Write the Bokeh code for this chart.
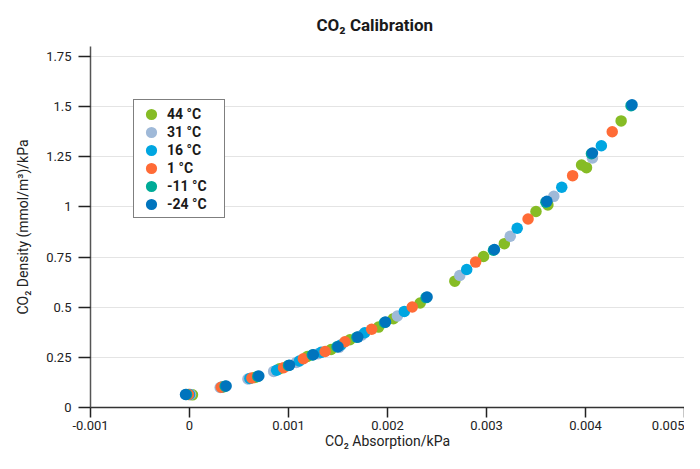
from bokeh.plotting import figure
from bokeh.models import FixedTicker, Legend, LegendItem, Range1d
from bokeh.embed import file_html
from bokeh.resources import INLINE

# ---------------- data ----------------
series_names = ["44 °C", "31 °C", "16 °C", "1 °C", "-11 °C", "-24 °C"]
series_colors = ["#86bc25", "#9fb9d8", "#00a6e1", "#ff6b36", "#00ab97", "#0074bd"]

x_44 = [0.00003, 0.00034, 0.00066, 0.00091, 0.00119, 0.00143, 0.00162, 0.00191, 0.00206,
        0.00233, 0.00268, 0.00297, 0.00318, 0.00350, 0.00362, 0.00396, 0.00401, 0.00436]
y_44 = [0.063, 0.102, 0.150, 0.193, 0.254, 0.289, 0.338, 0.401, 0.443,
        0.521, 0.630, 0.753, 0.817, 0.977, 1.010, 1.209, 1.196, 1.429]

x_31 = [0.00001, 0.00031, 0.00059, 0.00085, 0.00108, 0.00130, 0.00151, 0.00174, 0.00210,
        0.00273, 0.00324, 0.00368, 0.00407]
y_31 = [0.065, 0.100, 0.142, 0.180, 0.225, 0.268, 0.300, 0.360, 0.456,
        0.658, 0.854, 1.053, 1.244]

x_16 = [0.00000, 0.00033, 0.00061, 0.00088, 0.00111, 0.00133, 0.00153, 0.00177, 0.00217,
        0.00280, 0.00331, 0.00376, 0.00416]
y_16 = [0.065, 0.102, 0.145, 0.186, 0.232, 0.275, 0.312, 0.373, 0.479,
        0.688, 0.894, 1.098, 1.305]

x_1 = [-0.00001, 0.00032, 0.00063, 0.00095, 0.00115, 0.00137, 0.00157, 0.00184, 0.00225,
       0.00289, 0.00342, 0.00387, 0.00427]
y_1 = [0.065, 0.101, 0.147, 0.198, 0.243, 0.279, 0.328, 0.390, 0.501,
       0.725, 0.940, 1.156, 1.375]

x_m11 = [-0.00003, 0.00036, 0.00069, 0.00100, 0.00124, 0.00149, 0.00169, 0.00197, 0.00239,
         0.00307, 0.00360, 0.00406, 0.00446]
y_m11 = [0.065, 0.106, 0.155, 0.210, 0.262, 0.303, 0.350, 0.424, 0.548,
         0.784, 1.024, 1.265, 1.505]

x_m24 = [-0.00004, 0.00037, 0.00070, 0.00101, 0.00125, 0.00150, 0.00170, 0.00198, 0.00240,
         0.00308, 0.00361, 0.00407, 0.00447]
y_m24 = [0.065, 0.107, 0.157, 0.211, 0.263, 0.303, 0.351, 0.426, 0.551,
         0.788, 1.028, 1.269, 1.509]

x_ticks = [-0.001, 0, 0.001, 0.002, 0.003, 0.004, 0.005]
x_tick_labels = ["-0.001", "0", "0.001", "0.002", "0.003", "0.004", "0.005"]
y_ticks = [0, 0.25, 0.5, 0.75, 1, 1.25, 1.5, 1.75]
y_tick_labels = ["0", "0.25", "0.5", "0.75", "1", "1.25", "1.5", "1.75"]

xs = [x_44, x_31, x_16, x_1, x_m11, x_m24]
ys = [y_44, y_31, y_16, y_1, y_m11, y_m24]

FONT = "Roboto"

# ---------------- figure ----------------
p = figure(width=684, height=453,
           x_range=Range1d(-0.001, 0.005), y_range=Range1d(0, 1.8),
           output_backend="svg", toolbar_location=None,
           min_border_left=90, min_border_right=0,
           min_border_top=46, min_border_bottom=46,
           title="CO₂ Calibration")
p.outline_line_color = None
p.background_fill_color = "white"
p.border_fill_color = "white"

p.title.align = "left"
p.title.offset = 226
p.title.standoff = 23
p.title.text_font = FONT
p.title.text_font_size = "17px"
p.title.text_font_style = "bold"
p.title.text_color = "#1a1a1a"

p.xgrid.visible = False
p.ygrid.grid_line_color = "#e4e4e4"
p.ygrid.grid_line_width = 1

renderers = []
for xv, yv, c in zip(xs, ys, series_colors):
    r = p.ellipse(x=xv, y=yv, width=11.5, height=11.5,
                  width_units="screen", height_units="screen",
                  fill_color=c, line_color=None)
    renderers.append(r)

# y axis
ya = p.yaxis[0]
ya.ticker = FixedTicker(ticks=y_ticks)
ya.major_label_overrides = dict(zip(y_ticks, y_tick_labels))
ya.major_tick_out = 12
ya.major_tick_in = 0
ya.minor_tick_out = 0
ya.minor_tick_in = 0
ya.major_label_standoff = 7
ya.axis_label = "CO₂ Density (mmol/m³)/kPa"
ya.axis_label_standoff = 12
ya.axis_label_text_font = FONT
ya.axis_label_text_font_style = "normal"
ya.axis_label_text_font_size = "14px"
ya.axis_label_text_color = "#222222"
ya.major_label_text_font = FONT
ya.major_label_text_font_size = "13px"
ya.major_label_text_color = "#222222"
ya.axis_line_color = "#555555"
ya.axis_line_width = 1.5
ya.major_tick_line_color = "#222222"
ya.major_tick_line_width = 1.5

# x axis
xa = p.xaxis[0]
xa.ticker = FixedTicker(ticks=x_ticks)
xa.major_label_overrides = dict(zip(x_ticks, x_tick_labels))
xa.major_tick_out = 10
xa.major_tick_in = 0
xa.minor_tick_out = 0
xa.minor_tick_in = 0
xa.major_label_standoff = 3
xa.axis_label = "CO₂ Absorption/kPa"
xa.axis_label_standoff = 0
xa.axis_label_text_font = FONT
xa.axis_label_text_font_style = "normal"
xa.axis_label_text_font_size = "14px"
xa.axis_label_text_color = "#222222"
xa.major_label_text_font = FONT
xa.major_label_text_font_size = "13px"
xa.major_label_text_color = "#222222"
xa.axis_line_color = "#333333"
xa.axis_line_width = 1.5
xa.major_tick_line_color = "#222222"
xa.major_tick_line_width = 1.5

legend = Legend(items=[LegendItem(label=n, renderers=[r]) for n, r in zip(series_names, renderers)],
                location=(43, 189), margin=0, padding=5, spacing=1,
                glyph_width=24, glyph_height=14, label_height=17, label_width=52,
                label_standoff=4,
                label_text_font=FONT, label_text_font_style="bold", label_text_font_size="14px",
                label_text_color="#1a1a1a",
                border_line_color="black", border_line_width=1.2,
                background_fill_color="white", background_fill_alpha=1)
p.add_layout(legend, "center")

open("out.html", "w").write(file_html(p, INLINE))
